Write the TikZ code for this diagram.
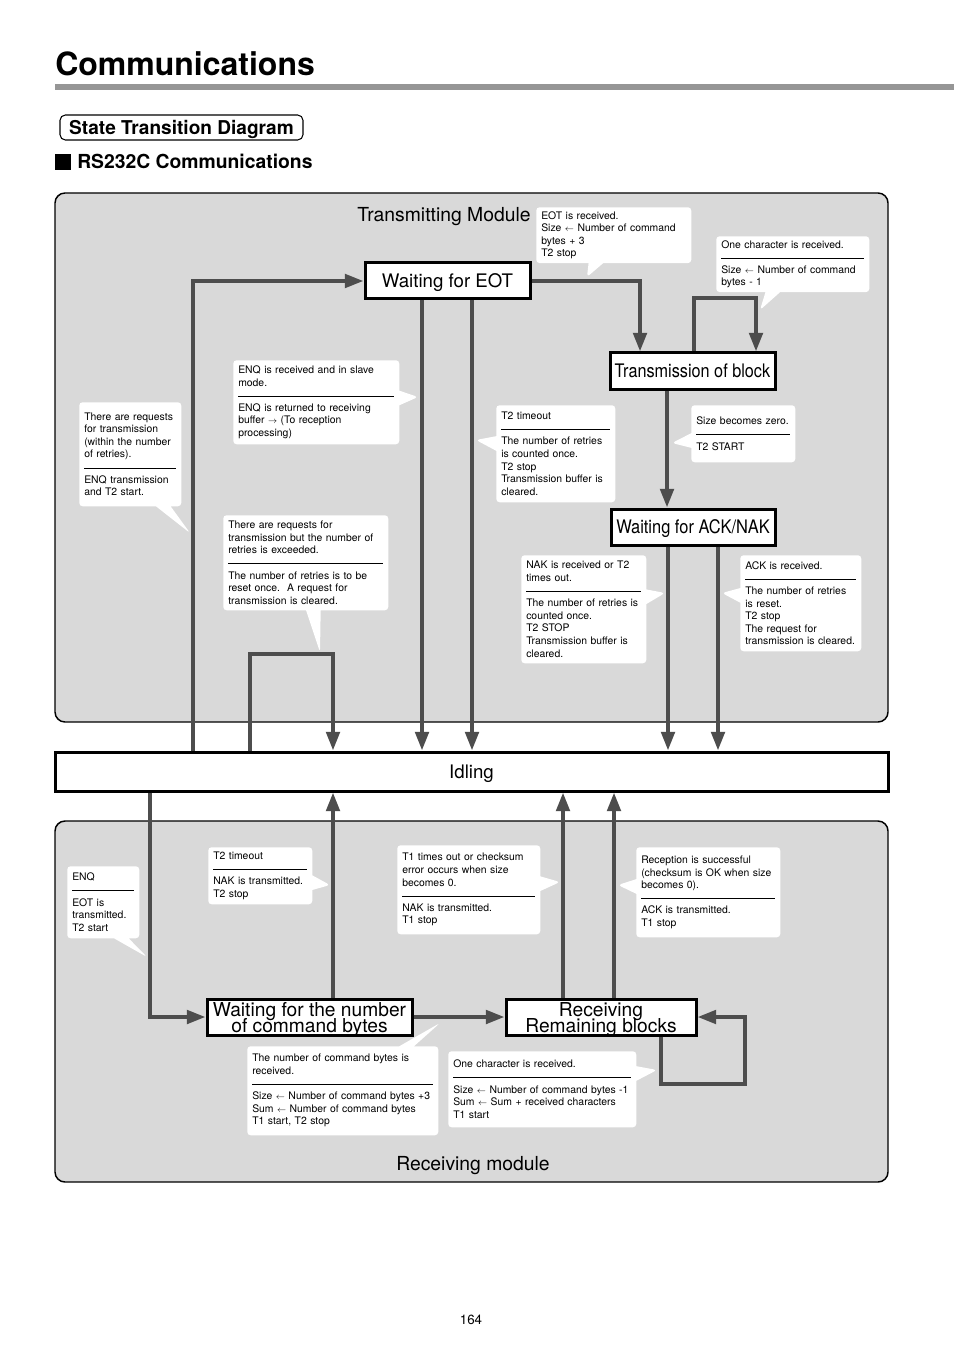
\documentclass[tikz,border=0pt]{standalone}
\usepackage{fontspec}
\setmainfont{TeX Gyre Heros}
\usepackage{graphicx}
\usepackage{tikz}
\usetikzlibrary{arrows.meta,calc,shapes.callouts}

\setlength{\parindent}{0pt}
\definecolor{panelgray}{RGB}{217,217,217}
\definecolor{flowgray}{RGB}{77,77,77}
\definecolor{rulegray}{RGB}{150,150,150}
\newcommand{\getsym}{\scalebox{0.8}{$\leftarrow$}}
\newcommand{\tosym}{\scalebox{0.8}{$\rightarrow$}}
\newcommand{\sepline}{\rule[1.6pt]{\hsize}{0.7pt}}
\newcommand{\tightlines}{\lineskiplimit=-20pt\relax}

\begin{document}
\begin{tikzpicture}[x=0.75pt,y=-0.75pt,
  panel/.style={draw=black,line width=1.1pt,fill=panelgray,rounded corners=7.5pt,inner sep=0pt},
  state/.style={draw=black,line width=2.25pt,fill=white,inner sep=0pt,align=center,text depth=0pt,font=\fontsize{14}{12}\selectfont},
  twoline/.style={font={\fontsize{14.4}{11.8}\selectfont\tightlines},text height=22.5pt,text depth=0pt},
  flow/.style={draw=flowgray,line width=3pt,-{Triangle[length=14pt,width=10pt]}},
  note/.style={rectangle callout,fill=white,rounded corners=2.5pt,anchor=north west,align=left,inner xsep=3.75pt,inner ysep=3pt,callout pointer width=11pt,font=\fontsize{7.8}{9.45}\selectfont},
  modlabel/.style={anchor=base west,font=\fontsize{14.5}{16}\selectfont,inner sep=0pt}]

\useasboundingbox (0,0) rectangle (954,1351);
\fill[white] (0,0) rectangle (954,1351);

\node[anchor=base west,inner sep=0pt,font=\fontsize{24}{28}\selectfont\bfseries] (title) at (55,76) {Communications};
\draw[rulegray,line width=4.5pt] (55,87.5) -- (954,87.5);
\node[draw,line width=0.8pt,rounded corners=4pt,minimum width=182.25pt,minimum height=18.75pt,inner sep=0pt,text depth=0pt,font=\fontsize{14.3}{16}\selectfont\bfseries] (stdiag) at (181.5,127.5) {State Transition Diagram};
\node[fill=black,minimum size=12pt,inner sep=0pt,anchor=north west] (bullet) at (55,154) {};
\node[anchor=base west,inner sep=0pt,font=\fontsize{14.5}{17}\selectfont\bfseries] (rs232) at (77,169) {RS232C Communications};

\node[panel,minimum width=624.75pt,minimum height=396.75pt] (txmod) at (471.5,457.5) {};
\node[panel,minimum width=624.75pt,minimum height=270.75pt] (rxmod) at (471.5,1001.5) {};
\node[modlabel] (txlabel) at (357,222) {Transmitting Module};
\node[modlabel] (rxlabel) at (396,1170) {Receiving module};

\node[note,text width=108.75pt,minimum height=41.25pt,callout absolute pointer={(587,277)}] (nEotRx) at (536,207)
  {EOT is received.\\ Size \getsym\ Number of command\\ bytes + 3\\ T2 stop};
\node[note,text width=107.25pt,minimum height=41.25pt,callout absolute pointer={(760,310)}] (nOneTx) at (716,236)
  {One character is received.\\ \sepline\\ Size \getsym\ Number of command\\ bytes - 1};
\node[note,text width=117pt,minimum height=63pt,callout absolute pointer={(418,397)}] (nSlave) at (233,360)
  {ENQ is received and in slave\\ mode.\\ \sepline\\ ENQ is returned to receiving\\ buffer \tosym\ (To reception\\ processing)};
\node[note,text width=69pt,minimum height=78pt,callout absolute pointer={(190,533)}] (nRequest) at (79,402)
  {There are requests\\ for transmission\\ (within the number\\ of retries).\\ \sepline\\ ENQ transmission\\ and T2 start.};
\node[note,text width=81.75pt,minimum height=72.75pt,callout absolute pointer={(476,440)}] (nTimeoutTx) at (496,405)
  {T2 timeout\\ \sepline\\ The number of retries\\ is counted once.\\ T2 stop\\ Transmission buffer is\\ cleared.};
\node[note,text width=70.5pt,minimum height=42.75pt,callout absolute pointer={(672,443)}] (nZero) at (691,405)
  {Size becomes zero.\\ \sepline\\ T2 START};
\node[note,text width=116.25pt,minimum height=71.25pt,callout absolute pointer={(320,652)}] (nExceed) at (223,515)
  {There are requests for\\ transmission but the number of\\ retries is exceeded.\\ \sepline\\ The number of retries is to be\\ reset once.\ \ A request for\\ transmission is cleared.};
\node[note,text width=86.25pt,minimum height=81pt,callout absolute pointer={(665,593)}] (nNak) at (521,555)
  {NAK is received or T2\\ times out.\\ \sepline\\ The number of retries is\\ counted once.\\ T2 STOP\\ Transmission buffer is\\ cleared.};
\node[note,text width=83.25pt,minimum height=72pt,callout absolute pointer={(722,593)}] (nAck) at (740,555)
  {ACK is received.\\ \sepline\\ The number of retries\\ is reset.\\ T2 stop\\ The request for\\ transmission is cleared.};

\node[note,text width=46.5pt,minimum height=54pt,callout absolute pointer={(147,957)}] (nEnq) at (67,866)
  {ENQ\\ \sepline\\ EOT is\\ transmitted.\\ T2 start};
\node[note,text width=70.5pt,minimum height=42.75pt,callout absolute pointer={(330,885)}] (nTimeoutRx) at (208,847)
  {T2 timeout\\ \sepline\\ NAK is transmitted.\\ T2 stop};
\node[note,text width=99.75pt,minimum height=66.75pt,callout absolute pointer={(560,882)}] (nChecksum) at (397,845)
  {T1 times out or checksum\\ error occurs when size\\ becomes 0.\\ \sepline\\ NAK is transmitted.\\ T1 stop};
\node[note,text width=100.5pt,minimum height=67.5pt,callout absolute pointer={(618,885)}] (nSuccess) at (636,847)
  {Reception is successful\\ (checksum is OK when size\\ becomes 0).\\ \sepline\\ ACK is transmitted.\\ T1 stop};
\node[note,text width=135.75pt,minimum height=66.75pt,callout absolute pointer={(440,1023)}] (nCount) at (247,1046)
  {The number of command bytes is\\ received.\\ \sepline\\ Size \getsym\ Number of command bytes +3\\ Sum \getsym\ Number of command bytes\\ T1 start, T2 stop};
\node[note,text width=133.5pt,minimum height=57pt,callout absolute pointer={(657,1070)}] (nOneRx) at (448,1051)
  {One character is received.\\ \sepline\\ Size \getsym\ Number of command bytes -1\\ Sum \getsym\ Sum + received characters\\ T1 start};

\node[state,minimum width=123.75pt,minimum height=27pt] (eot) at (447.5,281) {Waiting for EOT};
\node[state,minimum width=123.75pt,minimum height=27pt] (blk) at (692.5,371) {\scalebox{0.87}[1]{Transmission of block}};
\node[state,minimum width=123pt,minimum height=27pt] (ack) at (693,527) {\scalebox{0.88}[1]{Waiting for ACK/NAK}};
\node[state,minimum width=624.75pt,minimum height=29.25pt] (idle) at (471.5,771.5) {Idling};
\node[state,twoline,minimum width=153.75pt,minimum height=27pt] (ncb) at (309.5,1017) {Waiting for the number\\of command bytes};
\node[state,twoline,minimum width=142.5pt,minimum height=27pt] (rrb) at (601,1017) {Receiving\\Remaining blocks};

\coordinate (upA) at ($(idle.north)+(-278.5,0)$);
\draw[flow] (upA) |- (eot.west);

\coordinate (eotA) at ($(eot.south)+(-25.5,0)$);
\coordinate (eotB) at ($(eot.south)+(24.5,0)$);
\draw[flow] (eotA) -- (eotA |- idle.north);
\draw[flow] (eotB) -- (eotB |- idle.north);

\coordinate (blkIn) at ($(blk.north)+(-52.5,0)$);
\draw[flow] (eot.east) -| (blkIn);

\coordinate (blkOut) at ($(blk.north)+(1.5,0)$);
\coordinate (blkBack) at ($(blk.north)+(63.5,0)$);
\draw[flow] (blkOut) -- ++(0,-53) -| (blkBack);

\coordinate (blkDown) at ($(blk.south)+(-25.5,0)$);
\draw[flow] (blkDown) -- (blkDown |- ack.north);

\coordinate (ackA) at ($(ack.south)+(-25,0)$);
\coordinate (ackB) at ($(ack.south)+(25,0)$);
\draw[flow] (ackA) -- (ackA |- idle.north);
\draw[flow] (ackB) -- (ackB |- idle.north);

\coordinate (idleOut) at ($(idle.north)+(-221.5,0)$);
\coordinate (idleBack) at ($(idle.north)+(-138.5,0)$);
\draw[flow] (idleOut) -- ++(0,-97) -| (idleBack);

\coordinate (downA) at ($(idle.south)+(-321.5,0)$);
\draw[flow] (downA) |- (ncb.west);

\coordinate (ncbUp) at ($(ncb.north)+(23.5,0)$);
\draw[flow] (ncbUp) -- (ncbUp |- idle.south);
\draw[flow] (ncb.east) -- (rrb.west);

\coordinate (rrbA) at ($(rrb.north)+(-38,0)$);
\coordinate (rrbB) at ($(rrb.north)+(13,0)$);
\draw[flow] (rrbA) -- (rrbA |- idle.south);
\draw[flow] (rrbB) -- (rrbB |- idle.south);

\coordinate (rrbOut) at ($(rrb.south)+(60,0)$);
\draw[flow] (rrbOut) -- ++(0,47) -- ++(84,0) |- (rrb.east);

\node[font=\fontsize{10}{12}\selectfont] (pageno) at (471,1320) {164};

\end{tikzpicture}
\end{document}
